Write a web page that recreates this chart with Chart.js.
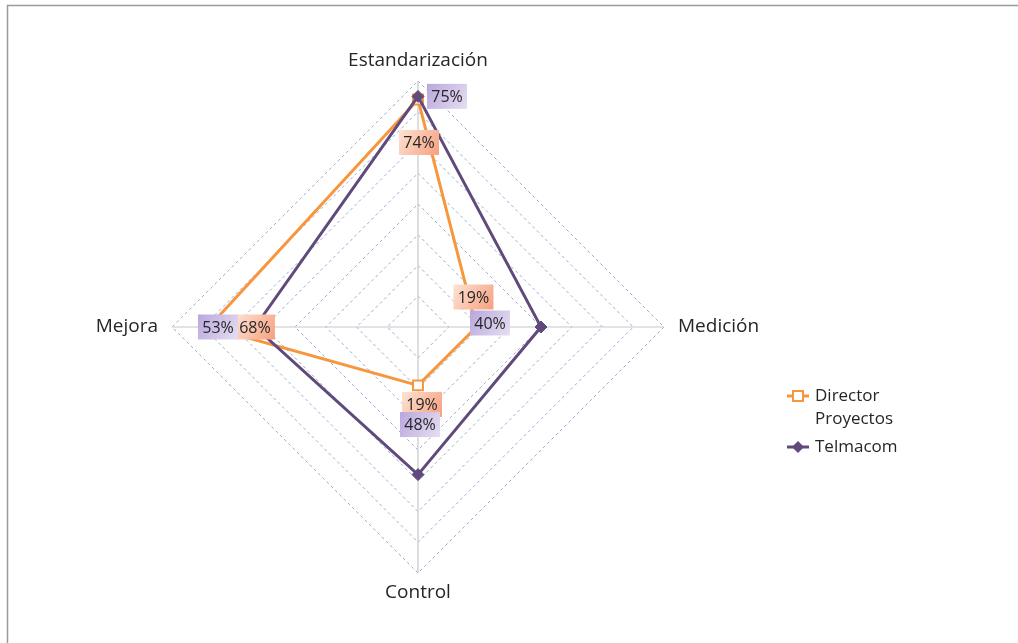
<!DOCTYPE html>
<html>
<head>
<meta charset="utf-8">
<script src="https://cdn.jsdelivr.net/npm/chart.js@4.4.0/dist/chart.umd.min.js"></script>
<style>
  body { margin: 0; background: #fff; }
  #wrap { width: 1018px; height: 643px; position: relative; }
</style>
</head>
<body>
<div id="wrap"><canvas id="radarChart" width="1018" height="643"></canvas></div>
<script>
// Data
const categories = ["Estandarización", "Medición", "Control", "Mejora"];
const directorValues = [0.74, 0.19, 0.19, 0.68];
const telmacomValues = [0.75, 0.40, 0.48, 0.53];
const scaleMax = 0.8;
const scaleStep = 0.1;
const seriesNames = ["Director Proyectos", "Telmacom"];

const orange = "#F7963C";
const purple = "#604A7B";
const fontFamily = "'Open Sans', sans-serif";

// label box offsets from each point (pixels), per series
const directorLabelOffsets = [[1, 43], [-3, -30], [4, 19], [46, 0]];
const telmacomLabelOffsets = [[29, 0], [-51, -4], [2, -50], [-37, 0]];

function fmtPct(v) {
  return Math.round(v * 100) + "%";
}

// Border, axis labels, data labels and legend
const decorPlugin = {
  id: "decor",
  beforeDraw(chart) {
    const ctx = chart.ctx;
    ctx.save();
    ctx.strokeStyle = "#9a9a9a";
    ctx.lineWidth = 1.5;
    ctx.beginPath();
    ctx.moveTo(7.5, 700);
    ctx.lineTo(7.5, 5.5);
    ctx.lineTo(1030, 5.5);
    ctx.stroke();
    ctx.restore();
  },
  afterDatasetsDraw(chart) {
    const ctx = chart.ctx;
    const scale = chart.scales.r;
    ctx.save();

    // axis (category) labels
    ctx.fillStyle = "#262626";
    ctx.font = "19px " + fontFamily;
    categories.forEach((cat, i) => {
      const pos = scale.getPointPosition(i, scale.drawingArea + 17);
      ctx.textBaseline = "middle";
      if (i === 0 || i === 2) {
        ctx.textAlign = "center";
        const p = scale.getPointPosition(i, scale.drawingArea + 20);
        ctx.fillText(cat, p.x, p.y);
      } else if (i === 1) {
        ctx.textAlign = "left";
        ctx.fillText(cat, pos.x - 3, pos.y);
      } else {
        ctx.textAlign = "right";
        ctx.fillText(cat, pos.x + 3, pos.y);
      }
    });

    // data labels with gradient boxes
    const drawLabel = (x, y, text, c1, c2) => {
      const w = 40, h = 25;
      const g = ctx.createLinearGradient(x - w / 2, y - h / 2, x + w / 2, y + h / 2);
      g.addColorStop(0, c1);
      g.addColorStop(1, c2);
      ctx.fillStyle = g;
      ctx.fillRect(x - w / 2, y - h / 2, w, h);
      ctx.fillStyle = "#262626";
      ctx.font = "16px " + fontFamily;
      ctx.textAlign = "center";
      ctx.textBaseline = "middle";
      ctx.fillText(text, x, y + 1);
    };
    const metaD = chart.getDatasetMeta(0);
    const metaT = chart.getDatasetMeta(1);
    metaD.data.forEach((pt, i) => {
      const o = directorLabelOffsets[i];
      drawLabel(pt.x + o[0], pt.y + o[1], fmtPct(directorValues[i]), "#FDE3D4", "#F6A07E");
    });
    metaT.data.forEach((pt, i) => {
      const o = telmacomLabelOffsets[i];
      drawLabel(pt.x + o[0], pt.y + o[1], fmtPct(telmacomValues[i]), "#B9A6DC", "#E6DFF2");
    });

    // legend
    ctx.font = "17px " + fontFamily;
    ctx.textAlign = "left";
    ctx.textBaseline = "middle";
    // Director Proyectos
    ctx.strokeStyle = orange;
    ctx.lineWidth = 3;
    ctx.beginPath();
    ctx.moveTo(787, 396);
    ctx.lineTo(809, 396);
    ctx.stroke();
    ctx.fillStyle = "#fff";
    ctx.lineWidth = 2;
    ctx.fillRect(793, 391, 10, 10);
    ctx.strokeRect(793, 391, 10, 10);
    ctx.fillStyle = "#262626";
    ctx.fillText("Director", 815, 396);
    ctx.fillText("Proyectos", 815, 419);
    // Telmacom
    ctx.strokeStyle = purple;
    ctx.lineWidth = 3;
    ctx.beginPath();
    ctx.moveTo(787, 447);
    ctx.lineTo(809, 447);
    ctx.stroke();
    ctx.fillStyle = purple;
    ctx.beginPath();
    ctx.moveTo(798, 441);
    ctx.lineTo(804, 447);
    ctx.lineTo(798, 453);
    ctx.lineTo(792, 447);
    ctx.closePath();
    ctx.fill();
    ctx.fillStyle = "#262626";
    ctx.fillText("Telmacom", 815, 447);

    ctx.restore();
  }
};

const ctx = document.getElementById("radarChart").getContext("2d");
const radarChart = new Chart(ctx, {
  type: "radar",
  data: {
    labels: categories,
    datasets: [
      {
        label: seriesNames[0],
        data: directorValues,
        borderColor: orange,
        borderWidth: 3,
        backgroundColor: "#fff",
        pointStyle: "rect",
        pointRadius: 7,
        pointBorderWidth: 2,
        pointBackgroundColor: "#fff",
        pointBorderColor: orange,
        fill: false,
        order: 1,
      },
      {
        label: seriesNames[1],
        data: telmacomValues,
        borderColor: purple,
        borderWidth: 3,
        backgroundColor: purple,
        pointStyle: "rectRot",
        pointRadius: 6,
        pointBorderWidth: 1,
        pointBackgroundColor: purple,
        pointBorderColor: purple,
        fill: false,
        order: 0,
      },
    ],
  },
  options: {
    responsive: false,
    animation: false,
    layout: {
      padding: { left: 172, right: 354, top: 81, bottom: 70 },
    },
    elements: {
      line: { tension: 0 },
    },
    plugins: {
      legend: { display: false },
      tooltip: { enabled: false },
    },
    scales: {
      r: {
        min: 0,
        max: scaleMax,
        ticks: { display: false, stepSize: scaleStep },
        pointLabels: { display: false },
        grid: { circular: false, color: "#9AADD0", lineWidth: 1 },
        border: { dash: [3, 3] },
        angleLines: { color: "#C8C8C8", lineWidth: 1.2 },
      },
    },
  },
  plugins: [decorPlugin],
});
</script>
</body>
</html>
